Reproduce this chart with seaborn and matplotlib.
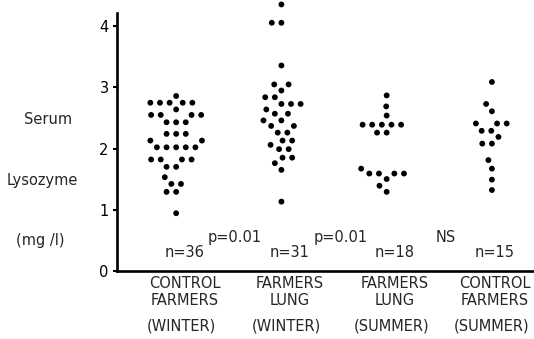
import numpy as np
import pandas as pd
import matplotlib
matplotlib.use("Agg")
import matplotlib.pyplot as plt
import seaborn as sns

# serum lysozyme (mg/l)
control_winter = [2.86, 2.75, 2.75, 2.75, 2.75, 2.75, 2.64, 2.55, 2.55, 2.55, 2.55,
                  2.43, 2.43, 2.43, 2.24, 2.24, 2.24, 2.13, 2.13, 2.02, 2.02, 2.02,
                  2.02, 2.02, 1.82, 1.82, 1.82, 1.82, 1.70, 1.70, 1.53, 1.42, 1.42,
                  1.29, 1.29, 0.94]
lung_winter = [4.36, 4.06, 4.06, 3.36, 3.05, 3.05, 2.95, 2.84, 2.84, 2.73, 2.73,
               2.73, 2.64, 2.57, 2.57, 2.46, 2.46, 2.37, 2.37, 2.26, 2.26, 2.13,
               2.13, 2.06, 1.99, 1.99, 1.85, 1.85, 1.76, 1.65, 1.13]
lung_summer = [2.87, 2.69, 2.54, 2.39, 2.39, 2.39, 2.39, 2.39, 2.26, 2.26,
               1.67, 1.59, 1.59, 1.59, 1.59, 1.50, 1.39, 1.29]
control_summer = [3.09, 2.73, 2.61, 2.41, 2.41, 2.41, 2.29, 2.29, 2.19, 2.08, 2.08,
                  1.81, 1.67, 1.49, 1.32]

group_keys = ["cw", "fw", "fs", "cs"]
group_names = ["CONTROL\nFARMERS", "FARMERS\nLUNG", "FARMERS\nLUNG", "CONTROL\nFARMERS"]
seasons = ["(WINTER)", "(WINTER)", "(SUMMER)", "(SUMMER)"]
n_labels = ["n=36", "n=31", "n=18", "n=15"]
p_labels = ["p=0.01", "p=0.01", "NS"]
y_ticks = [0, 1, 2, 3, 4]

df = pd.concat([
    pd.DataFrame({"group": k, "lysozyme": v})
    for k, v in zip(group_keys, [control_winter, lung_winter, lung_summer, control_summer])
])

sns.set_style("white")
plt.rcParams["font.family"] = ["Liberation Sans Narrow", "DejaVu Sans"]

fig = plt.figure(figsize=(5.34, 3.39), dpi=100)
ax = fig.add_axes([117 / 534, (339 - 270.6) / 339, 1 - 117 / 534, (270.6 - 13) / 339])

sns.swarmplot(data=df, x="group", y="lysozyme", order=group_keys, color="black",
              size=4.2, ax=ax)
# invisible edge so the swarm leaves small gaps between dots, like the original
for coll in ax.collections:
    coll.set_edgecolor("none")
    coll.set_linewidth(2.4)
    coll.set_clip_on(False)

ax.set_xlim(-0.562, 3.4)
ax.set_ylim(0, 4.22)
ax.set_xlabel("")
ax.set_ylabel("")
ax.set_xticks([])
ax.set_yticks(y_ticks)
ax.tick_params(axis="y", direction="out", length=3, width=1.5, pad=3,
               labelsize=10.5, left=True, colors="black")
sns.despine(ax=ax)
for side in ["left", "bottom"]:
    ax.spines[side].set_linewidth(1.9)
    ax.spines[side].set_color("black")

xt = ax.get_xaxis_transform()
label_shift = [0.08, 0.08, 0.08, 0.03]
for i in range(4):
    ax.text(i + label_shift[i], 0.30, n_labels[i], ha="center", va="center", fontsize=10.5)
    ax.text(i + label_shift[i], -0.02, group_names[i], transform=xt, ha="center", va="top",
            fontsize=10.5, linespacing=1.2)
    ax.text(i + label_shift[i] - 0.03, -0.215, seasons[i], transform=xt, ha="center",
            va="center", fontsize=10.5, clip_on=False)
for i, lab in enumerate(p_labels):
    ax.text(i + 0.56, 0.55, lab, ha="center", va="center", fontsize=10.5)

fig.text(48 / 534, 1 - 120 / 339, "Serum", ha="center", va="center", fontsize=10.5)
fig.text(42 / 534, 1 - 181 / 339, "Lysozyme", ha="center", va="center", fontsize=10.5)
fig.text(40 / 534, 1 - 241 / 339, "(mg /l)", ha="center", va="center", fontsize=10.5)

fig.savefig("out.png", dpi=100)
